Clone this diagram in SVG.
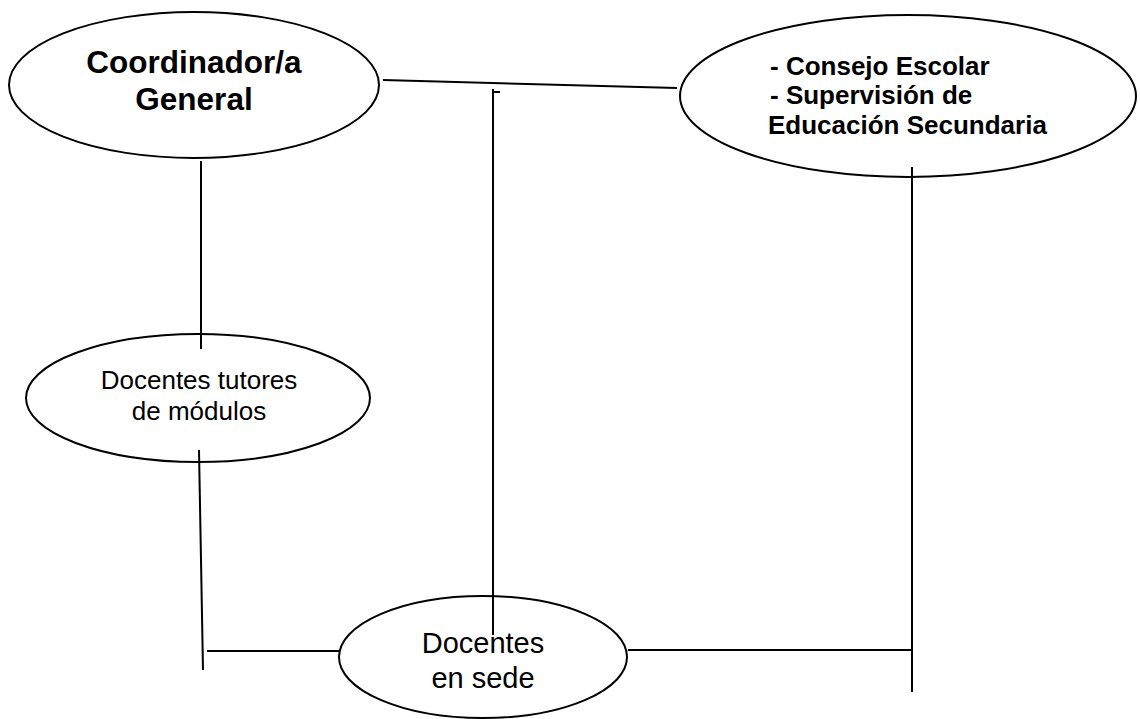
<svg xmlns="http://www.w3.org/2000/svg" width="1140" height="719" viewBox="0 0 1140 719">
<style>
.node{fill:#fff;stroke:#000;stroke-width:2}
.c line{stroke:#000;stroke-width:2;fill:none}
.t{font-family:"Liberation Sans",Arial,sans-serif;fill:#000}
.b{font-weight:bold}
</style>
<rect width="1140" height="719" fill="#fff"/>
<g id="n-coord">
<ellipse class="node" cx="194" cy="85" rx="185" ry="73"/>
<text class="t b" x="194" y="73" font-size="31.5" text-anchor="middle">Coordinador/a</text>
<text class="t b" x="194" y="110" font-size="31.5" text-anchor="middle">General</text>
</g>
<g id="n-consejo">
<ellipse class="node" cx="908" cy="96" rx="228" ry="81"/>
<text class="t b" x="770" y="75" font-size="26">- Consejo Escolar</text>
<text class="t b" x="770" y="104" font-size="26">- Supervisión de</text>
<text class="t b" x="768" y="134" font-size="26">Educación Secundaria</text>
</g>
<g id="n-tutores">
<ellipse class="node" cx="198" cy="398" rx="172" ry="64"/>
<text class="t" x="199" y="389" font-size="26" text-anchor="middle">Docentes tutores</text>
<text class="t" x="199" y="420" font-size="26" text-anchor="middle">de módulos</text>
</g>
<g id="n-sede">
<ellipse class="node" cx="483" cy="657" rx="144" ry="61"/>
<text class="t" x="483" y="653" font-size="29" text-anchor="middle">Docentes</text>
<text class="t" x="483" y="688" font-size="29" text-anchor="middle">en sede</text>
</g>
<g id="connectors" class="c">
<line x1="383" y1="80" x2="677" y2="88"/>
<line x1="493" y1="89" x2="493" y2="635"/>
<line x1="493" y1="92" x2="500" y2="92"/>
<line x1="201" y1="161" x2="201" y2="349"/>
<line x1="199" y1="450" x2="203" y2="670"/>
<line x1="207" y1="651" x2="340" y2="651"/>
<line x1="628" y1="650" x2="912" y2="650"/>
<line x1="912" y1="167" x2="912" y2="692"/>
</g>
</svg>
